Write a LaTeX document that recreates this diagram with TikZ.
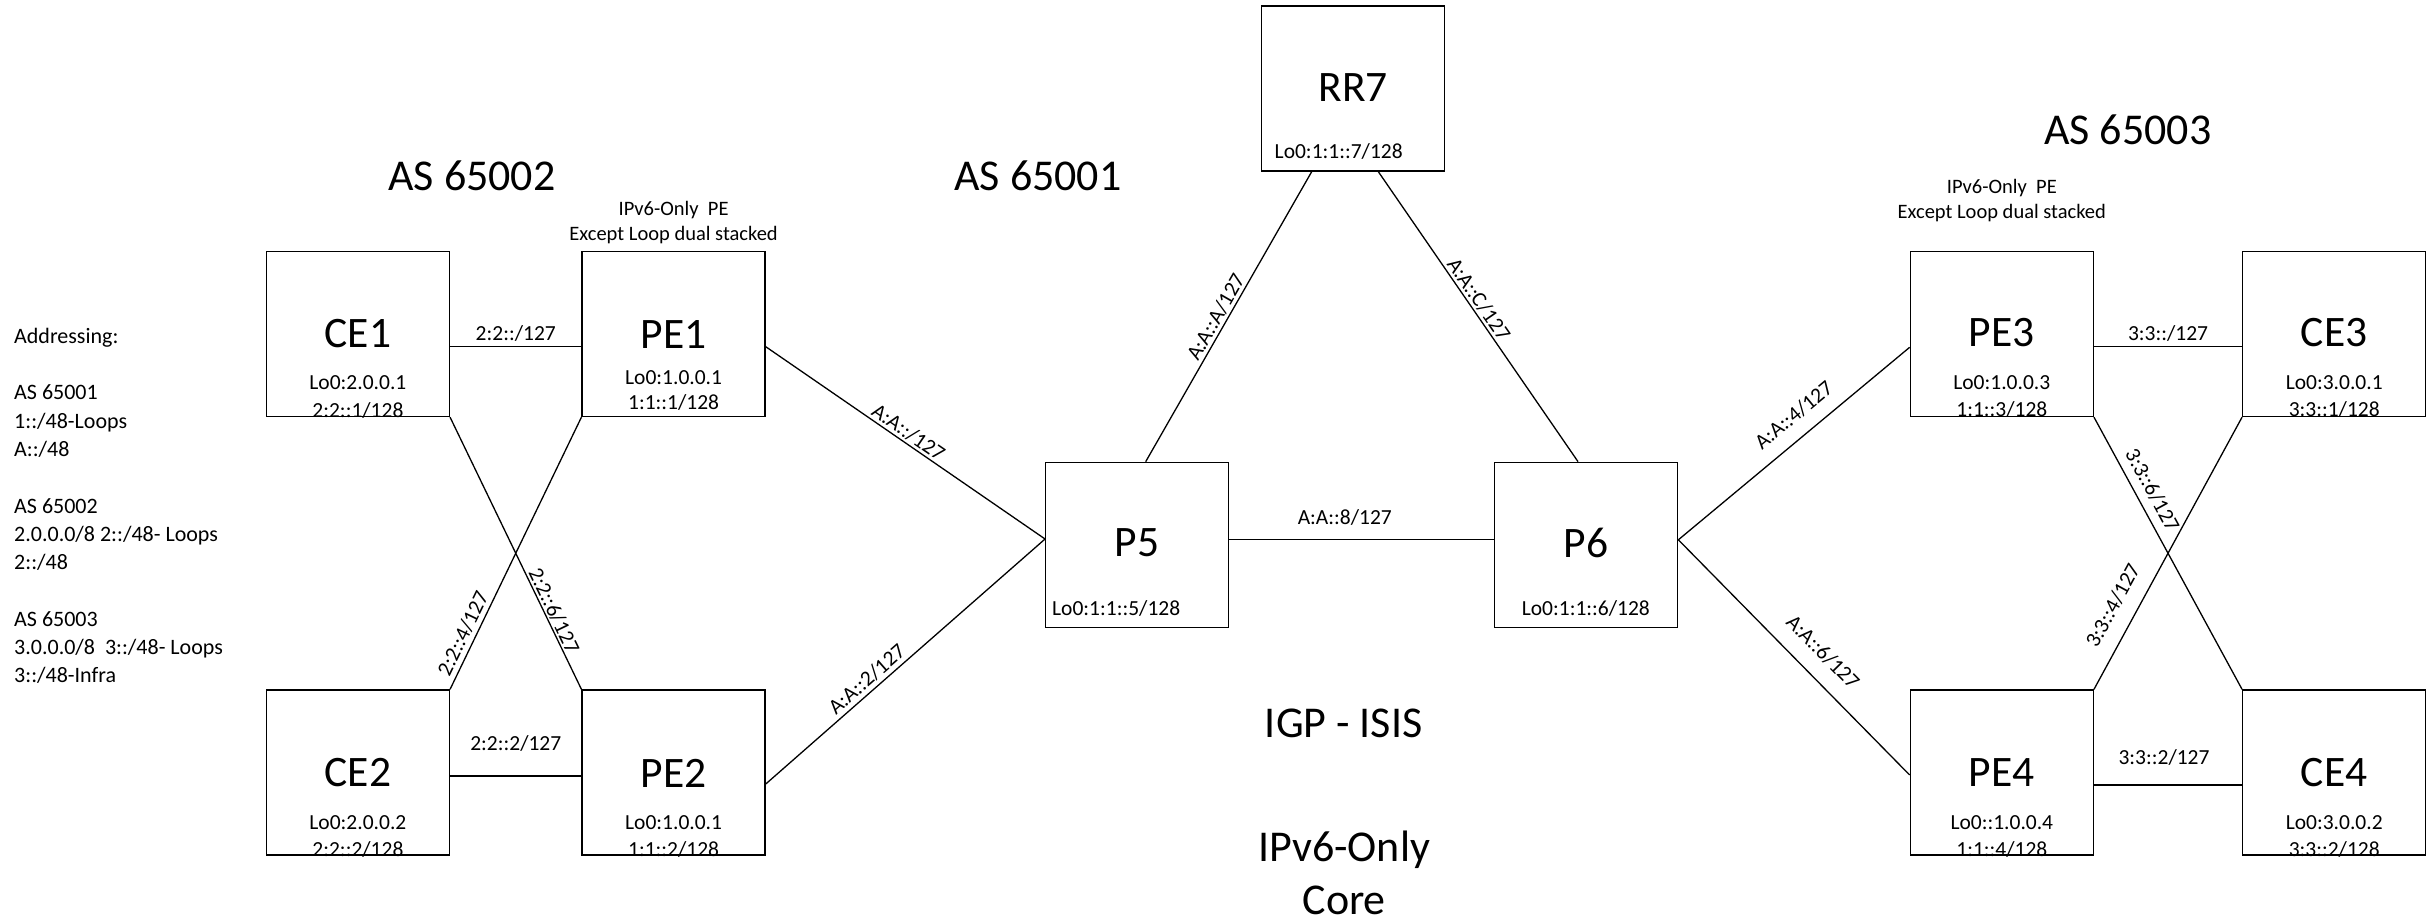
\documentclass[tikz,border=0pt]{standalone}
\usepackage{fontspec}
\setmainfont{Carlito}
\begin{document}
\begin{tikzpicture}[x=1pt,y=-1pt,
  box/.style={draw, line width=1.3pt, minimum width=183pt, minimum height=165pt, inner sep=0pt},
  ttl/.style={font=\fontsize{43.5}{52}\selectfont, inner sep=0pt},
  addr/.style={font=\fontsize{21.5}{27.5}\selectfont, align=center, inner sep=0pt},
  addrb/.style={font=\fontsize{21.5}{25}\selectfont, align=center, inner sep=0pt},
  note/.style={font=\fontsize{20.5}{24.5}\selectfont, align=center, inner sep=0pt},
  big/.style={font=\fontsize{44}{52.7}\selectfont, align=center, inner sep=0pt},
  lbl/.style={font=\fontsize{21.5}{26}\selectfont, inner sep=0pt},
  wire/.style={line width=1.3pt},
]
\useasboundingbox (0,0) rectangle (2427,923);

% boxes
\node[box] (ce1) at (357.9,334) {};
\node[box] (pe1) at (673.6,334) {};
\node[box] (ce2) at (357.9,772.5) {};
\node[box] (pe2) at (673.6,772.5) {};
\node[box] (rr7) at (1353.3,88.5) {};
\node[box] (p5) at (1137.2,544.8) {};
\node[box] (p6) at (1586.2,544.8) {};
\node[box] (pe3) at (2001.8,334) {};
\node[box] (ce3) at (2334.2,334) {};
\node[box] (pe4) at (2001.8,772.5) {};
\node[box] (ce4) at (2334.2,772.5) {};

% titles
\node[ttl] (ce1t) at (357.9,334) {CE1};
\node[ttl] (pe1t) at (673.6,334) {PE1};
\node[ttl] (ce2t) at (357.9,773) {CE2};
\node[ttl] (pe2t) at (673.6,773) {PE2};
\node[ttl] (rr7t) at (1353.3,88) {RR7};
\node[ttl] (p5t) at (1137.2,543) {P5};
\node[ttl] (p6t) at (1586.2,543) {P6};
\node[ttl] (pe3t) at (2001.8,333) {PE3};
\node[ttl] (ce3t) at (2334.2,333) {CE3};
\node[ttl] (pe4t) at (2001.8,773) {PE4};
\node[ttl] (ce4t) at (2334.2,773) {CE4};

% loopback addresses
\node[addr] (ce1a) at (357.9,397) {Lo0:2.0.0.1\\2:2::1/128};
\node[addrb] (pe1a) at (673.6,390.5) {Lo0:1.0.0.1\\1:1::1/128};
\node[addr] (ce2a) at (357.9,836.3) {Lo0:2.0.0.2\\2:2::2/128};
\node[addr] (pe2a) at (673.6,836.3) {Lo0:1.0.0.1\\1:1::2/128};
\node[addr] (pe3a) at (2001.8,396.5) {Lo0:1.0.0.3\\1:1::3/128};
\node[addr] (ce3a) at (2334.2,396.5) {Lo0:3.0.0.1\\3:3::1/128};
\node[addr] (pe4a) at (2001.8,836.3) {Lo0::1.0.0.4\\1:1::4/128};
\node[addr] (ce4a) at (2334.2,836.3) {Lo0:3.0.0.2\\3:3::2/128};
\node[addr, anchor=west] (p5a) at (1052,608) {Lo0:1:1::5/128};
\node[addr] (p6a) at (1585.8,608) {Lo0:1:1::6/128};
\node[addr] (rr7a) at (1338.7,151.7) {Lo0:1:1::7/128};

% area titles
\node[big] (as2) at (472,176) {AS 65002};
\node[big] (as1) at (1038,176) {AS 65001};
\node[big] (as3) at (2127.7,130) {AS 65003};
\node[big] (igp) at (1343.7,723.3) {IGP - ISIS};
\node[big] (core) at (1344.2,873) {IPv6-Only\\Core};
\node[note] (note1) at (673.6,222.3) {IPv6-Only\ \ PE\\Except Loop dual stacked};
\node[note] (note3) at (2001.8,200.5) {IPv6-Only\ \ PE\\Except Loop dual stacked};

% addressing plan
\node[font=\fontsize{22}{28.3}\selectfont, align=left, inner sep=0pt, anchor=west] (plan) at (14,506)
  {Addressing:\\\mbox{}\\AS 65001\\1::/48-Loops\\A::/48\\\mbox{}\\AS 65002\\2.0.0.0/8 2::/48- Loops\\2::/48\\\mbox{}\\AS 65003\\3.0.0.0/8\ \ 3::/48- Loops\\3::/48-Infra};

% links
\draw[wire] ([yshift=-12.7pt]ce1.east) -- node[lbl, above=4.5pt, pos=0.5] (l1) {2:2::/127} ([yshift=-12.7pt]pe1.west);
\draw[wire] ([yshift=-3.5pt]ce2.east) -- node[lbl, above=24pt, pos=0.5] (l2) {2:2::2/127} ([yshift=-3.5pt]pe2.west);
\draw[wire] ([yshift=-12.7pt]pe1.east) -- node[lbl, sloped, above=2pt, pos=0.49] (l3) {A:A::/127} ([yshift=5.8pt]p5.west);
\draw[wire] ([yshift=-11.5pt]pe2.east) -- node[lbl, sloped, above=3.5pt, pos=0.39] (l4) {A:A::2/127} ([yshift=5.8pt]p5.west);
\draw[wire] ([yshift=5.5pt]p5.east) -- node[lbl, above=13.5pt, pos=0.436] (l5) {A:A::8/127} ([yshift=5.5pt]p6.west);
\draw[wire] ([xshift=8.5pt]p5.north) -- node[lbl, sloped, above=2.5pt, pos=0.48] (l6) {A:A::A/127} ([xshift=-41.6pt]rr7.south);
\draw[wire] ([xshift=25pt]rr7.south) -- node[lbl, sloped, above=2pt, pos=0.46] (l7) {A:A::C/127} ([xshift=-8.2pt]p6.north);
\draw[wire] ([yshift=5pt]p6.east) -- node[lbl, sloped, above=13.5pt, pos=0.56] (l8) {A:A::4/127} ([yshift=-13.3pt]pe3.west);
\draw[wire] ([yshift=5pt]p6.east) -- node[lbl, sloped, above=16pt, pos=0.55] (l9) {A:A::6/127} ([yshift=-2.5pt]pe4.west);
\draw[wire] ([yshift=-12.7pt]pe3.east) -- node[lbl, above=4.5pt, pos=0.5] (l10) {3:3::/127} ([yshift=-12.7pt]ce3.west);
\draw[wire] ([yshift=-12.5pt]pe4.east) -- node[lbl, above=19pt, pos=0.473] (l11) {3:3::2/127} ([yshift=-12.5pt]ce4.west);
\draw[wire] (ce1.south east) -- node[lbl, sloped, above=1pt, pos=0.727] (l12) {2:2::6/127} (pe2.north west);
\draw[wire] (ce2.north east) -- node[lbl, sloped, above=4pt, pos=0.184] (l13) {2:2::4/127} (pe1.south west);
\draw[wire] (pe3.south east) -- node[lbl, sloped, above=8pt, pos=0.297] (l14) {3:3::6/127} (ce4.north west);
\draw[wire] (pe4.north east) -- node[lbl, sloped, above=15pt, pos=0.267] (l15) {3:3::4/127} (ce3.south west);
\end{tikzpicture}
\end{document}
